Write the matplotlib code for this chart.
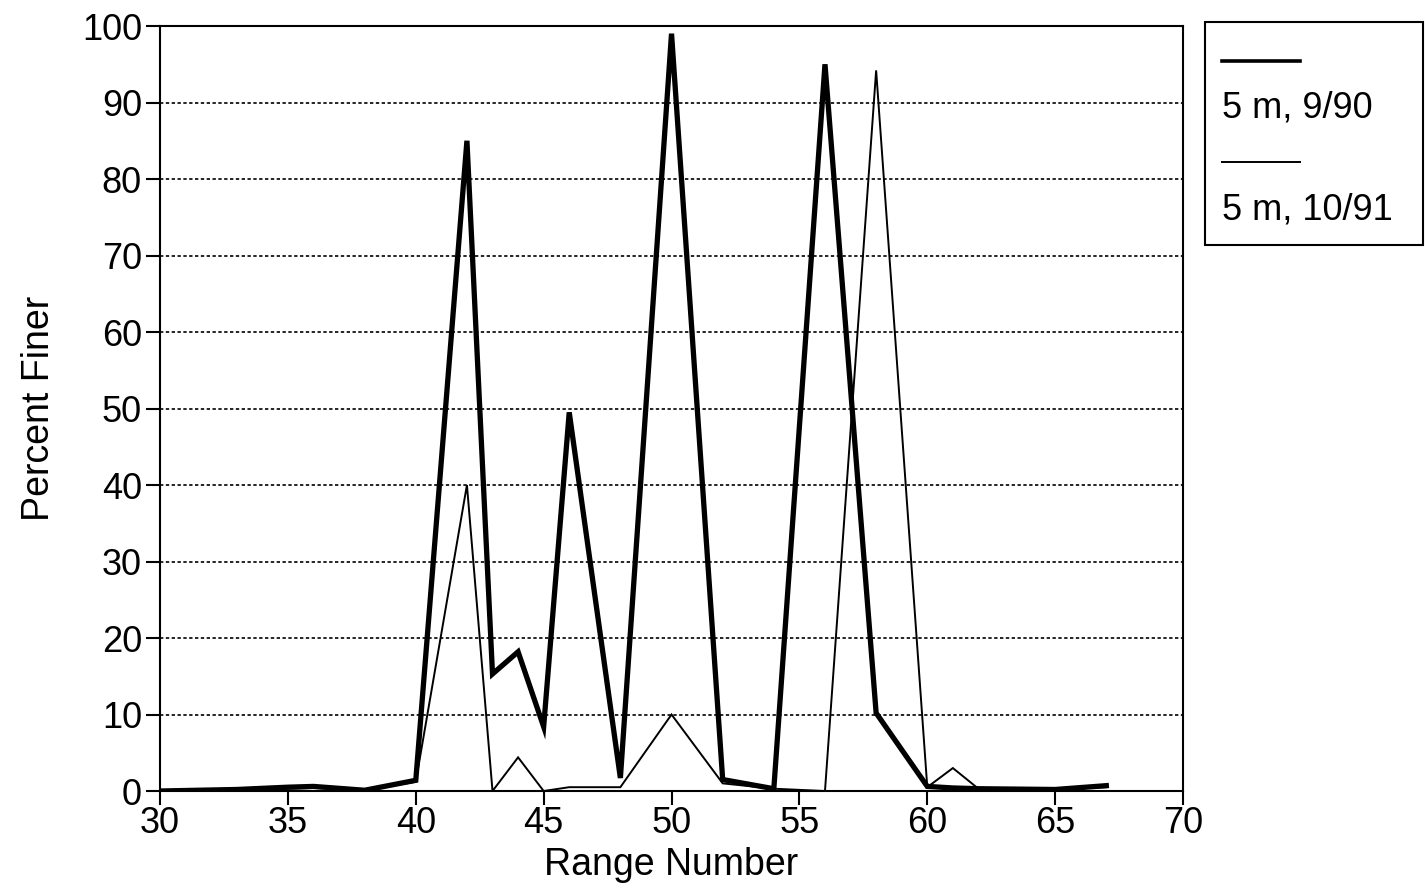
import matplotlib
matplotlib.use("Agg")
import matplotlib.pyplot as plt
from matplotlib.lines import Line2D
from matplotlib.patches import Rectangle

plt.rcParams['font.family'] = ['Liberation Sans', 'DejaVu Sans']

# ── data ─────────────────────────────────────────────────────────
range_num = [30, 33, 35, 36, 38, 40, 42, 43, 44, 45, 46, 48, 50, 52, 54, 56, 58, 60, 61, 62, 65, 67]
pf_9_90 = [0.0, 0.2, 0.5, 0.6, 0.1, 1.4, 85.0, 15.3, 18.2, 8.4, 49.5, 1.7, 99.0, 1.5, 0.3, 95.0, 10.2, 0.6, 0.4, 0.3, 0.2, 0.7]
pf_10_91 = [0.0, 0.1, 0.3, 0.4, 0.1, 1.2, 40.0, 0.0, 4.4, 0.0, 0.5, 0.5, 10.0, 1.0, 0.3, 0.0, 94.2, 0.5, 3.0, 0.3, 0.2, 0.5]

labels = ["5 m, 9/90", "5 m, 10/91"]
widths = [3.8, 1.4]
legend_widths = [2.6, 1.4]

fig = plt.figure(figsize=(14.25, 8.94), dpi=100)
ax = fig.add_axes([0.1123, 0.1152, 0.7179, 0.8557])

ax.plot(range_num, pf_9_90, color='black', lw=widths[0], solid_joinstyle='miter', zorder=3)
ax.plot(range_num, pf_10_91, color='black', lw=widths[1], solid_joinstyle='miter', zorder=3)

ax.set_xlim(30, 70)
ax.set_ylim(0, 100)
ax.set_xticks(range(30, 71, 5))
ax.set_yticks(range(0, 101, 10))
ax.tick_params(axis='both', labelsize=26, length=10, width=1.5, direction='out', pad=1)
ax.tick_params(axis='y', pad=3)
for sp in ax.spines.values():
    sp.set_linewidth(1.5)
ax.yaxis.grid(True, color='black', ls=(0, (2, 1.5)), lw=1.2)
ax.set_axisbelow(True)

ax.set_xlabel("Range Number", fontsize=27, labelpad=4)
ax.set_ylabel("Percent Finer", fontsize=27, labelpad=18)

# legend box outside, line above each label
fig.patches.append(Rectangle((1205 / 1425, 1 - 245 / 894), 218 / 1425, 223 / 894,
                             transform=fig.transFigure, fill=False, lw=1.5, ec='black'))
line_y = [61, 162]
text_y = [108, 210]
for lab, lw, ly, ty in zip(labels, legend_widths, line_y, text_y):
    fig.lines.append(Line2D([1222 / 1425, 1300 / 1425], [1 - ly / 894, 1 - ly / 894],
                            transform=fig.transFigure, color='black', lw=lw))
    fig.text(1222 / 1425, 1 - ty / 894, lab, fontsize=26, va='center', ha='left')

fig.savefig("out.png", dpi=100)
